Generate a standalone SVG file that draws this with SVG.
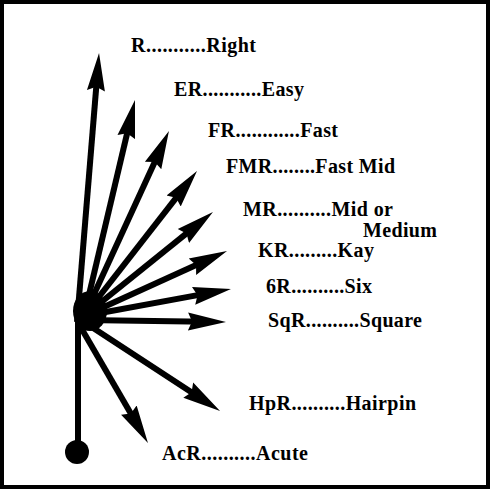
<svg xmlns="http://www.w3.org/2000/svg" width="493" height="495" viewBox="0 0 493 495">
<style>
.lbl{font-family:'Liberation Serif','Times New Roman',serif;font-weight:700;font-size:20px;fill:#000}
.shaft{stroke:#000;stroke-width:6;fill:none}
</style>
<defs>
<marker id="ah" markerUnits="userSpaceOnUse" markerWidth="42" markerHeight="22" viewBox="0 -11 42 22" refX="18" refY="0" orient="auto">
<path d="M0,-9 L38,0 L0,9 L4,0 z" fill="#000"/>
</marker>
</defs>
<rect x="0" y="0" width="493" height="495" fill="#fff"/>
<rect id="frame" x="2" y="2" width="486" height="485" fill="none" stroke="#000" stroke-width="4"/>
<g id="connectors">
<line class="shaft" x1="78" y1="318" x2="78" y2="452"/>
<line class="shaft" x1="77" y1="322" x2="97.4" y2="72.9" marker-end="url(#ah)"/>
<line class="shaft" x1="84" y1="316" x2="130.4" y2="119.5" marker-end="url(#ah)"/>
<line class="shaft" x1="84" y1="316" x2="160.6" y2="149.2" marker-end="url(#ah)"/>
<line class="shaft" x1="84" y1="316" x2="184.7" y2="186.8" marker-end="url(#ah)"/>
<line class="shaft" x1="84" y1="316" x2="197.4" y2="224.6" marker-end="url(#ah)"/>
<line class="shaft" x1="84" y1="316" x2="208.8" y2="259.3" marker-end="url(#ah)"/>
<line class="shaft" x1="84" y1="316" x2="211.3" y2="292.6" marker-end="url(#ah)"/>
<line class="shaft" x1="84" y1="320" x2="206" y2="321.7" marker-end="url(#ah)"/>
<line class="shaft" x1="84" y1="322" x2="203.3" y2="400" marker-end="url(#ah)"/>
<line class="shaft" x1="80" y1="326" x2="137.9" y2="425.7" marker-end="url(#ah)"/>
</g>
<g id="hub">
<ellipse cx="90" cy="311" rx="17" ry="20" fill="#000"/>
<circle cx="77" cy="452" r="12" fill="#000"/>
</g>
<g id="R"><text class="lbl" x="131" y="52" textLength="125" lengthAdjust="spacing">R...........Right</text></g>
<g id="ER"><text class="lbl" x="174" y="96" textLength="130" lengthAdjust="spacing">ER...........Easy</text></g>
<g id="FR"><text class="lbl" x="208" y="137" textLength="130" lengthAdjust="spacing">FR............Fast</text></g>
<g id="FMR"><text class="lbl" x="226" y="173" textLength="169" lengthAdjust="spacing">FMR........Fast Mid</text></g>
<g id="MR"><text class="lbl" x="243" y="216" textLength="150" lengthAdjust="spacing">MR..........Mid or</text>
<text class="lbl" x="363" y="237" textLength="74" lengthAdjust="spacing">Medium</text></g>
<g id="KR"><text class="lbl" x="258" y="257" textLength="116" lengthAdjust="spacing">KR.........Kay</text></g>
<g id="SixR"><text class="lbl" x="266" y="293" textLength="106" lengthAdjust="spacing">6R..........Six</text></g>
<g id="SqR"><text class="lbl" x="268" y="327" textLength="154" lengthAdjust="spacing">SqR..........Square</text></g>
<g id="HpR"><text class="lbl" x="249" y="410" textLength="167" lengthAdjust="spacing">HpR..........Hairpin</text></g>
<g id="AcR"><text class="lbl" x="162" y="460" textLength="146" lengthAdjust="spacing">AcR..........Acute</text></g>
</svg>
